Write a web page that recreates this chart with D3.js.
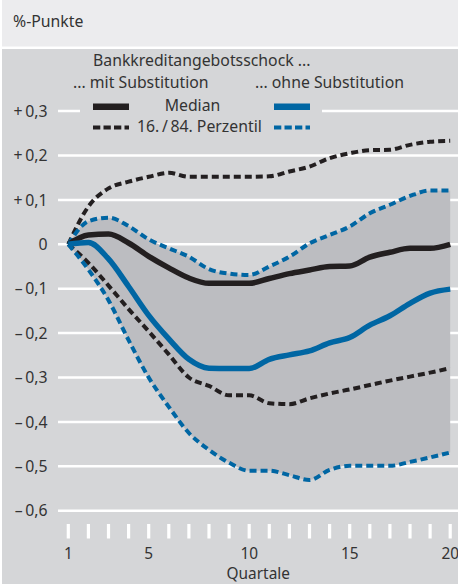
<!DOCTYPE html>
<html>
<head>
<meta charset="utf-8">
<script src="https://cdn.jsdelivr.net/npm/d3@7"></script>
<style>
  body { margin: 0; background: #fff; }
  text { font-family: "Noto Sans", "Open Sans", sans-serif; fill: #333; }
</style>
</head>
<body>
<div id="chart"></div>
<script>
const quarters = d3.range(1, 21);
// mit Substitution
const medianMit = [0, 0.021, 0.023, 0.003, -0.027, -0.053, -0.076, -0.088, -0.088, -0.088,
  -0.077, -0.066, -0.058, -0.05, -0.049, -0.029, -0.018, -0.009, -0.009, 0];
const upperMit = [0, 0.085, 0.126, 0.141, 0.152, 0.161, 0.152, 0.152, 0.152, 0.152,
  0.153, 0.164, 0.175, 0.194, 0.205, 0.212, 0.213, 0.224, 0.231, 0.233];
const lowerMit = [0, -0.042, -0.093, -0.146, -0.196, -0.248, -0.3, -0.319, -0.34, -0.34,
  -0.358, -0.36, -0.347, -0.336, -0.327, -0.317, -0.307, -0.298, -0.289, -0.279];
// ohne Substitution
const medianOhne = [0, 0.004, -0.033, -0.095, -0.16, -0.213, -0.259, -0.279, -0.28, -0.28,
  -0.259, -0.249, -0.24, -0.222, -0.21, -0.182, -0.161, -0.133, -0.11, -0.101];
const upperOhne = [0, 0.052, 0.06, 0.041, 0.011, -0.009, -0.028, -0.056, -0.066, -0.069,
  -0.05, -0.028, 0.002, 0.021, 0.04, 0.07, 0.089, 0.109, 0.121, 0.121];
const lowerOhne = [0, -0.057, -0.126, -0.216, -0.3, -0.366, -0.425, -0.463, -0.492, -0.51,
  -0.51, -0.52, -0.531, -0.508, -0.499, -0.499, -0.499, -0.49, -0.48, -0.469];

const yTicks = [0.3, 0.2, 0.1, 0, -0.1, -0.2, -0.3, -0.4, -0.5, -0.6];
const xLabels = [1, 5, 10, 15, 20];

const W = 458, H = 584;
const black = "#231f20", blue = "#0066a3";
const panel = "#d5d6d8", band = "#bcbdc1";
const fs = 15.8, fsx = 15.4;

const svg = d3.select("#chart").append("svg")
  .attr("width", W).attr("height", H);

// header + panel
svg.append("rect").attr("x", 2).attr("y", 0).attr("width", W - 2).attr("height", 46.5).attr("fill", "#ececee");
svg.append("text").attr("x", 13).attr("y", 27).attr("font-size", fs).text("%-Punkte");
svg.append("rect").attr("x", 2).attr("y", 49).attr("width", W - 2).attr("height", H - 49).attr("fill", panel);

const x = d3.scaleLinear().domain([1, 20]).range([68.3, 450.2]);
const y = d3.scaleLinear().domain([0, -0.6]).range([244.3, 510.7]);

const fmt = v => v === 0 ? "0" : (v > 0 ? "+\u2009" : "\u2013\u2009") + d3.format(".1f")(Math.abs(v)).replace(".", ",");

// gridlines
svg.append("g").selectAll("line").data(yTicks).join("line")
  .attr("x1", 58).attr("x2", W)
  .attr("y1", d => y(d)).attr("y2", d => y(d))
  .attr("stroke", "#fff").attr("stroke-width", 2.5);

svg.append("g").selectAll("text").data(yTicks).join("text")
  .attr("x", 47.5).attr("y", d => y(d)).attr("dy", "0.36em")
  .attr("text-anchor", "end").attr("font-size", fs)
  .text(fmt);

// x ticks
svg.append("g").selectAll("line").data(quarters).join("line")
  .attr("x1", d => x(d)).attr("x2", d => x(d))
  .attr("y1", 524).attr("y2", 538.5)
  .attr("stroke", "#fff").attr("stroke-width", 3.2);

svg.append("g").selectAll("text").data(xLabels).join("text")
  .attr("x", d => x(d)).attr("y", 558.5)
  .attr("text-anchor", "middle").attr("font-size", fsx)
  .text(d => d);

svg.append("text").attr("x", x(10.5) - 1).attr("y", 579.3)
  .attr("text-anchor", "middle").attr("font-size", fsx).text("Quartale");

// band between ohne percentiles
const area = d3.area()
  .x((d, i) => x(quarters[i]))
  .y0((d, i) => y(lowerOhne[i]))
  .y1((d, i) => y(upperOhne[i]))
  .curve(d3.curveMonotoneX);
svg.append("path").datum(quarters).attr("d", area).attr("fill", band);

const line = d3.line()
  .x((d, i) => x(quarters[i]))
  .y(d => y(d))
  .curve(d3.curveMonotoneX);

function draw(data, color, dashed) {
  svg.append("path").datum(data).attr("d", line)
    .attr("fill", "none").attr("stroke", color)
    .attr("stroke-width", dashed ? 4 : 5.5)
    .attr("stroke-dasharray", dashed ? "7,4" : null)
    .attr("stroke-linejoin", "round");
}
draw(upperMit, black, true);
draw(lowerMit, black, true);
draw(upperOhne, blue, true);
draw(lowerOhne, blue, true);
draw(medianMit, black, false);
draw(medianOhne, blue, false);

// legend
const lg = svg.append("g");
lg.append("rect").attr("x", 80).attr("y", 101).attr("width", 242).attr("height", 18).attr("fill", panel);
lg.append("text").attr("x", 93).attr("y", 66).attr("font-size", fs).text("Bankkreditangebotsschock ...");
lg.append("text").attr("x", 73).attr("y", 88).attr("font-size", fs).text("... mit Substitution");
lg.append("text").attr("x", 255).attr("y", 88).attr("font-size", fs).text("... ohne Substitution");
lg.append("text").attr("x", 192.5).attr("y", 111).attr("text-anchor", "middle").attr("font-size", fs).text("Median");
lg.append("text").attr("x", 137).attr("y", 132).attr("font-size", fs).text("16.\u2009/\u200984. Perzentil");
const sw = [
  {x0: 93, y: 106.7, c: black, d: false},
  {x0: 274, y: 106.7, c: blue, d: false},
  {x0: 93, y: 127.5, c: black, d: true},
  {x0: 274, y: 127.5, c: blue, d: true}
];
lg.selectAll("line.sw").data(sw).join("line")
  .attr("x1", d => d.x0).attr("x2", d => d.x0 + 36)
  .attr("y1", d => d.y).attr("y2", d => d.y)
  .attr("stroke", d => d.c)
  .attr("stroke-width", d => d.d ? 4 : 6.5)
  .attr("stroke-dasharray", d => d.d ? "7.3,3.2" : null);
</script>
</body>
</html>
